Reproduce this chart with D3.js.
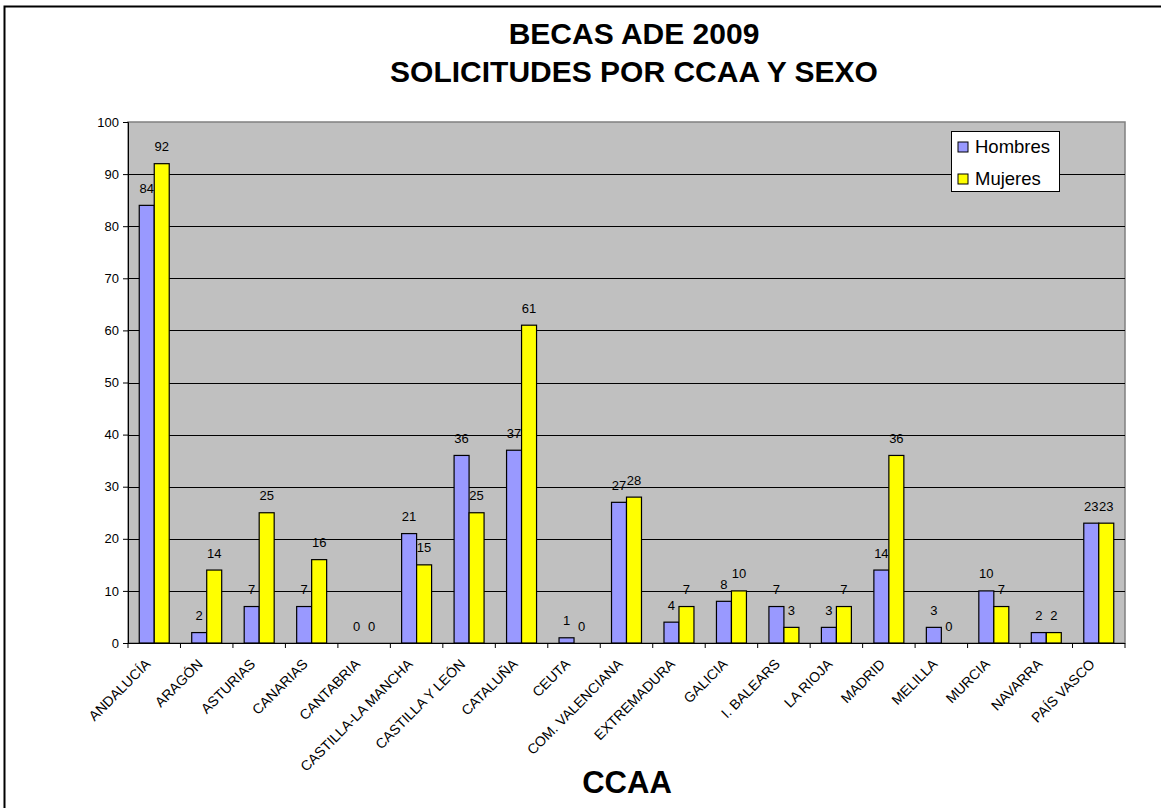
<!DOCTYPE html>
<html><head><meta charset="utf-8">
<script src="https://cdn.jsdelivr.net/npm/d3@7"></script>
<style>body{margin:0;background:#fff}svg{display:block}text{font-family:"Liberation Sans",Arial,sans-serif}</style>
</head><body><svg id="c" width="1161" height="808"></svg>
<script>
const categories = ["ANDALUCÍA","ARAGÓN","ASTURIAS","CANARIAS","CANTABRIA","CASTILLA-LA MANCHA","CASTILLA Y LEÓN","CATALUÑA","CEUTA","COM. VALENCIANA","EXTREMADURA","GALICIA","I. BALEARS","LA RIOJA","MADRID","MELILLA","MURCIA","NAVARRA","PAÍS VASCO"];
const hombres = [84,2,7,7,0,21,36,37,1,27,4,8,7,3,14,3,10,2,23];
const mujeres = [92,14,25,16,0,15,25,61,0,28,7,10,3,7,36,0,7,2,23];
const seriesNames = ["Hombres","Mujeres"];
const seriesColors = ["#9999FF","#FFFF00"];
const yTicks = [0,10,20,30,40,50,60,70,80,90,100];

const svg = d3.select("#c");
// outer frame
svg.append("rect").attr("x",4.5).attr("y",6.5).attr("width",1300).attr("height",1000)
  .attr("fill","#fff").attr("stroke","#000").attr("stroke-width",2);

const L=128, R=1125, T=122, B=643;
const x = d3.scaleBand().domain(categories).range([L,R]).paddingInner(0).paddingOuter(0);
const y = d3.scaleLinear().domain([0,100]).range([B,T]);

// plot area
svg.append("rect").attr("x",L).attr("y",T).attr("width",R-L).attr("height",B-T)
  .attr("fill","#C0C0C0").attr("stroke","#808080").attr("stroke-width",1.5);
// gridlines
svg.append("g").selectAll("line").data(yTicks.filter(d=>d>0 && d<100)).join("line")
  .attr("x1",L).attr("x2",R).attr("y1",d=>Math.round(y(d))+0.5).attr("y2",d=>Math.round(y(d))+0.5)
  .attr("stroke","#000").attr("stroke-width",1);

// Y axis
const yAxis = d3.axisLeft(y).tickValues(yTicks).tickSize(5).tickPadding(4);
const gy = svg.append("g").attr("transform",`translate(${L},0)`).call(yAxis);
gy.select(".domain").attr("stroke","#000");
gy.selectAll("text").attr("font-size",13).attr("font-family","Liberation Sans, Arial, sans-serif").attr("fill","#000");
gy.selectAll(".tick line").attr("stroke","#000");

// X axis
const gx = svg.append("g").attr("transform",`translate(0,${B})`);
gx.append("line").attr("x1",L).attr("x2",R).attr("y1",0.5).attr("y2",0.5).attr("stroke","#000");
const tickPos = categories.map(c=>x(c)).concat([R]);
gx.selectAll("line.t").data(tickPos).join("line").attr("class","t")
  .attr("x1",d=>d).attr("x2",d=>d).attr("y1",0).attr("y2",5).attr("stroke","#000");
gx.selectAll("text").data(categories).join("text")
  .attr("transform",d=>`translate(${x(d)+x.bandwidth()/2-3},${22}) rotate(-45)`)
  .attr("text-anchor","end").attr("font-size",14).attr("fill","#000").text(d=>d);

// bars
const barW = x.bandwidth()*2/3.5/2;
const groupOff = (x.bandwidth()-2*barW)/2;
const data = [hombres,mujeres];
data.forEach((vals,si)=>{
  const g = svg.append("g");
  g.selectAll("rect").data(categories).join("rect")
    .attr("x",(c)=>x(c)+groupOff+si*barW).attr("width",barW)
    .attr("y",(c,i)=>y(vals[i])).attr("height",(c,i)=>B-y(vals[i]))
    .attr("fill",seriesColors[si]).attr("stroke","#000").attr("stroke-width",1.2);
  g.selectAll("text").data(categories).join("text")
    .attr("x",(c)=>x(c)+groupOff+si*barW+barW/2).attr("y",(c,i)=>y(vals[i])-12.5)
    .attr("text-anchor","middle").attr("font-size",13).attr("fill","#000")
    .text((c,i)=>vals[i]);
});

// legend
const lg = svg.append("g").attr("transform","translate(951,131)");
lg.append("rect").attr("x",0.5).attr("y",0.5).attr("width",108).attr("height",60).attr("fill","#fff").attr("stroke","#000");
seriesNames.forEach((n,i)=>{
  lg.append("rect").attr("x",7).attr("y",11+i*32).attr("width",10).attr("height",10)
    .attr("fill",seriesColors[i]).attr("stroke","#000");
  lg.append("text").attr("x",24).attr("y",22+i*32).attr("font-size",18.5).attr("fill","#000").text(n);
});

// titles
svg.append("text").attr("x",634).attr("y",43.5).attr("text-anchor","middle").attr("font-size",30).attr("font-weight","bold").text("BECAS ADE 2009");
svg.append("text").attr("x",634).attr("y",82).attr("text-anchor","middle").attr("font-size",30).attr("font-weight","bold").text("SOLICITUDES POR CCAA Y SEXO");
svg.append("text").attr("x",627).attr("y",793).attr("text-anchor","middle").attr("font-size",31).attr("font-weight","bold").text("CCAA");
</script></body></html>
